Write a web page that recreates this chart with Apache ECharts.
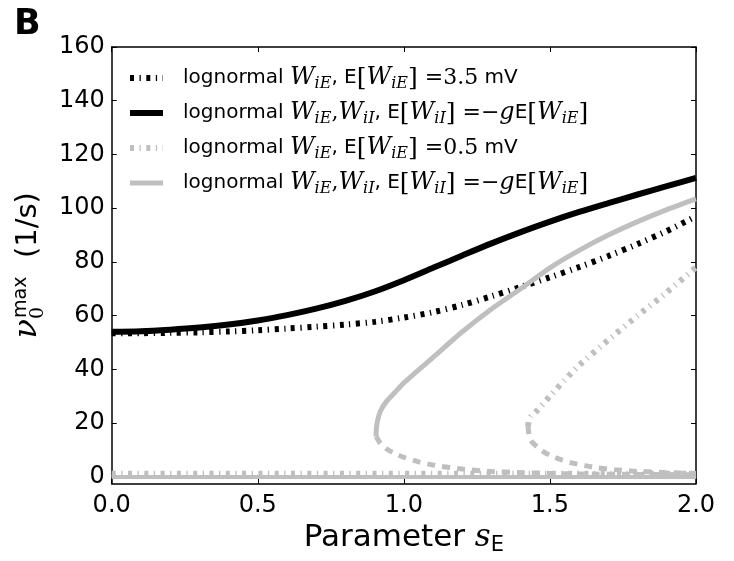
<!DOCTYPE html>
<html>
<head>
<meta charset="utf-8">
<script src="https://cdn.jsdelivr.net/npm/echarts@6/dist/echarts.min.js"></script>
<style>
html,body{margin:0;padding:0;background:#fff;}
#chart{width:734px;height:561px;}
</style>
</head>
<body>
<div id="chart"></div>
<script>
// ---- data ----
const sGrid = [0.0,0.1,0.2,0.3,0.4,0.5,0.6,0.7,0.8,0.9,1.0,1.1,1.2,1.3,1.4,1.5,1.6,1.7,1.8,1.9,2.0];
const blackSolid   = [54.0,54.2,54.8,55.6,56.7,58.2,60.2,62.6,65.5,69.0,73.2,77.8,82.4,86.9,91.1,95.0,98.6,101.9,105.1,108.2,111.3];
const blackDashDot = [53.5,53.5,53.6,53.8,54.1,54.6,55.2,55.9,56.7,57.7,59.3,61.3,64.0,67.2,70.7,74.3,78.1,82.2,86.7,91.5,97.0];

const graySolidUpperS = [0.905,0.906,0.91,0.92,0.94,0.97,1.0,1.1,1.2,1.3,1.4,1.5,1.6,1.7,1.8,1.9,2.0];
const graySolidUpperV = [15.0,18.0,21.0,24.5,28.0,31.5,35.0,44.5,54.0,62.5,70.0,77.8,84.3,90.0,95.0,99.5,103.5];
const graySolidLowerS = [0.905,0.92,0.94,0.97,1.0,1.05,1.1,1.2,1.3,1.4,1.5,1.6,1.8,2.0];
const graySolidLowerV = [15.0,12.5,10.5,8.6,7.3,5.6,4.4,2.9,2.0,1.6,1.3,1.1,0.9,0.8];

const grayDashDotUpperS = [1.425,1.428,1.435,1.45,1.5,1.55,1.6,1.7,1.8,1.9,2.0];
const grayDashDotUpperV = [18.9,21.0,22.5,24.0,30.0,36.0,41.5,51.0,60.0,68.7,78.0];
const grayDashDotLowerS = [1.425,1.43,1.44,1.46,1.48,1.505,1.54,1.57,1.62,1.66,1.72,1.78,1.89,2.0];
const grayDashDotLowerV = [18.9,14.6,12.8,10.9,9.2,7.8,6.3,5.3,4.2,3.4,2.7,2.2,1.6,1.3];

const graySolidLow   = [0,0,0,0,0,0,0,0,0,0,0,0,0,0,0,0,0,0,0,0,0];
const grayDashDotLow = [1.2,1.2,1.2,1.2,1.2,1.2,1.2,1.2,1.2,1.2,1.2,1.2,1.2,1.2,1.2,1.2,1.2,1.2,1.2,1.2,1.2];

const xTicks = [0.0,0.5,1.0,1.5,2.0];
const yTicks = [0,20,40,60,80,100,120,140,160];

const legendNames = ['a','b','c','d'];
const legendTexts = {
  a: 'lognormal {w|W}{s|iE}, E{b|[}{w|W}{s|iE}{b|]}{m| =3.5} mV',
  b: 'lognormal {w|W}{s|iE}{m|,}{w|W}{s|iI}, E{b|[}{w|W}{s|iI}{b|]}{m| =−}{w|g}E{b|[}{w|W}{s|iE}{b|]}',
  c: 'lognormal {w|W}{s|iE}, E{b|[}{w|W}{s|iE}{b|]}{m| =0.5} mV',
  d: 'lognormal {w|W}{s|iE}{m|,}{w|W}{s|iI}, E{b|[}{w|W}{s|iI}{b|]}{m| =−}{w|g}E{b|[}{w|W}{s|iE}{b|]}'
};

// ---- helpers ----
const zip = (xs, ys) => xs.map((x, i) => [x, ys[i]]);
const BLACK = '#000000';
const GRAY = '#bfbfbf';
const DASHDOT = [4, 5.5, 1.3, 5.5];
const DASHED = [8, 7];

const chart = echarts.init(document.getElementById('chart'), null, {renderer: 'canvas'});

const serifIt = {fontFamily: 'DejaVu Serif', fontStyle: 'italic'};

const option = {
  animation: false,
  backgroundColor: '#ffffff',
  grid: {left: 106, right: 38, top: 47, bottom: 73},
  graphic: [{
    type: 'text', left: 14, top: 7,
    style: {text: 'B', font: 'bold 35px "DejaVu Sans"', fill: '#000'}
  }],
  legend: {
    data: legendNames,
    orient: 'vertical',
    left: 127, top: 64,
    padding: 0,
    itemWidth: 33, itemHeight: 14, itemGap: 7,
    itemStyle: {opacity: 0},
    lineStyle: {width: 'inherit', type: 'inherit'},
    formatter: n => legendTexts[n],
    textStyle: {
      fontFamily: 'DejaVu Sans', fontSize: 20, color: '#000',
      lineHeight: 28, padding: [0, 0, 0, 15],
      rich: {
        w: Object.assign({fontSize: 24, lineHeight: 28, color: '#000'}, serifIt),
        s: Object.assign({fontSize: 16, lineHeight: 12, verticalAlign: 'bottom', color: '#000'}, serifIt),
        b: {fontFamily: 'DejaVu Serif', fontSize: 25, lineHeight: 28, color: '#000'},
        m: {fontFamily: 'DejaVu Serif', fontSize: 22, lineHeight: 28, color: '#000'}
      }
    }
  },
  xAxis: [{
    type: 'value', min: 0, max: 2, interval: 0.5,
    name: '{n|Parameter }{v|s}{sub|E}',
    nameLocation: 'middle', nameGap: 30,
    nameTextStyle: {
      rich: {
        n: {fontFamily: 'DejaVu Sans', fontSize: 31, lineHeight: 36, color: '#000'},
        v: Object.assign({fontSize: 31, lineHeight: 36, color: '#000'}, serifIt),
        sub: {fontFamily: 'DejaVu Sans', fontSize: 21, lineHeight: 18, verticalAlign: 'bottom', color: '#000'}
      }
    },
    axisLine: {show: true, onZero: false, lineStyle: {color: '#000', width: 1.5}},
    axisTick: {show: true, inside: true, length: 5, lineStyle: {color: '#000', width: 1}},
    axisLabel: {
      fontFamily: 'DejaVu Sans', fontSize: 24, color: '#000', margin: 10,
      customValues: xTicks,
      formatter: v => v.toFixed(1)
    },
    splitLine: {show: false}
  }, {
    type: 'value', min: 0, max: 2, interval: 0.5, position: 'top',
    axisLine: {show: true, onZero: false, lineStyle: {color: '#000', width: 1.5}},
    axisTick: {show: true, inside: true, length: 5, lineStyle: {color: '#000', width: 1}},
    axisLabel: {show: false},
    splitLine: {show: false}
  }],
  yAxis: [{
    type: 'value', min: -2.5, max: 160,
    name: '{nu|ν}{sub|0}{sup|max}{n|  (1/s)}',
    nameLocation: 'middle', nameGap: 58, nameRotate: 90,
    nameTextStyle: {
      rich: {
        nu: Object.assign({fontSize: 32, lineHeight: 40, color: '#000'}, serifIt),
        sub: {fontFamily: 'DejaVu Serif', fontSize: 19, lineHeight: 16, verticalAlign: 'bottom', color: '#000'},
        sup: {fontFamily: 'DejaVu Sans', fontSize: 19, lineHeight: 16, verticalAlign: 'top', color: '#000', padding: [4, 0, 0, -11]},
        n: {fontFamily: 'DejaVu Sans', fontSize: 29, lineHeight: 40, color: '#000'}
      }
    },
    axisLine: {show: true, onZero: false, lineStyle: {color: '#000', width: 1.5}},
    axisTick: {show: true, inside: true, length: 5, customValues: yTicks, lineStyle: {color: '#000', width: 1}},
    axisLabel: {
      fontFamily: 'DejaVu Sans', fontSize: 24, color: '#000', margin: 7,
      customValues: yTicks,
      formatter: v => (Math.abs(v % 20) < 1e-9 ? String(v) : '')
    },
    splitLine: {show: false}
  }, {
    type: 'value', min: -2.5, max: 160, position: 'right',
    axisLine: {show: true, onZero: false, lineStyle: {color: '#000', width: 1.5}},
    axisTick: {show: true, inside: true, length: 5, customValues: yTicks, lineStyle: {color: '#000', width: 1}},
    axisLabel: {show: false},
    splitLine: {show: false}
  }],
  series: [
    {name: 'a', type: 'line', symbol: 'none', smooth: 0.3, data: zip(sGrid, blackDashDot),
     lineStyle: {color: BLACK, width: 6, type: DASHDOT, cap: 'butt'}, itemStyle: {color: BLACK}, z: 2},
    {name: 'b', type: 'line', symbol: 'none', smooth: 0.3, data: zip(sGrid, blackSolid),
     lineStyle: {color: BLACK, width: 6, type: 'solid'}, itemStyle: {color: BLACK}, z: 3},
    {name: 'c', type: 'line', symbol: 'none', smooth: 0.2, data: zip(grayDashDotUpperS, grayDashDotUpperV),
     lineStyle: {color: GRAY, width: 6, type: DASHDOT, cap: 'butt'}, itemStyle: {color: GRAY}, z: 4},
    {name: 'c_low', type: 'line', symbol: 'none', smooth: 0.2, data: zip(grayDashDotLowerS, grayDashDotLowerV),
     lineStyle: {color: GRAY, width: 5, type: DASHED}, itemStyle: {color: GRAY}, z: 4},
    {name: 'c_zero', type: 'line', symbol: 'none', data: zip(sGrid, grayDashDotLow),
     lineStyle: {color: GRAY, width: 6, type: DASHDOT}, itemStyle: {color: GRAY}, z: 4},
    {name: 'd', type: 'line', symbol: 'none', smooth: 0.2, data: zip(graySolidUpperS, graySolidUpperV),
     lineStyle: {color: GRAY, width: 5, type: 'solid'}, itemStyle: {color: GRAY}, z: 5},
    {name: 'd_low', type: 'line', symbol: 'none', smooth: 0.2, data: zip(graySolidLowerS, graySolidLowerV),
     lineStyle: {color: GRAY, width: 5, type: DASHED}, itemStyle: {color: GRAY}, z: 5},
    {name: 'd_zero', type: 'line', symbol: 'none', data: zip(sGrid, graySolidLow),
     lineStyle: {color: GRAY, width: 4, type: 'solid'}, itemStyle: {color: GRAY}, z: 5}
  ]
};
chart.setOption(option);
</script>
</body>
</html>
